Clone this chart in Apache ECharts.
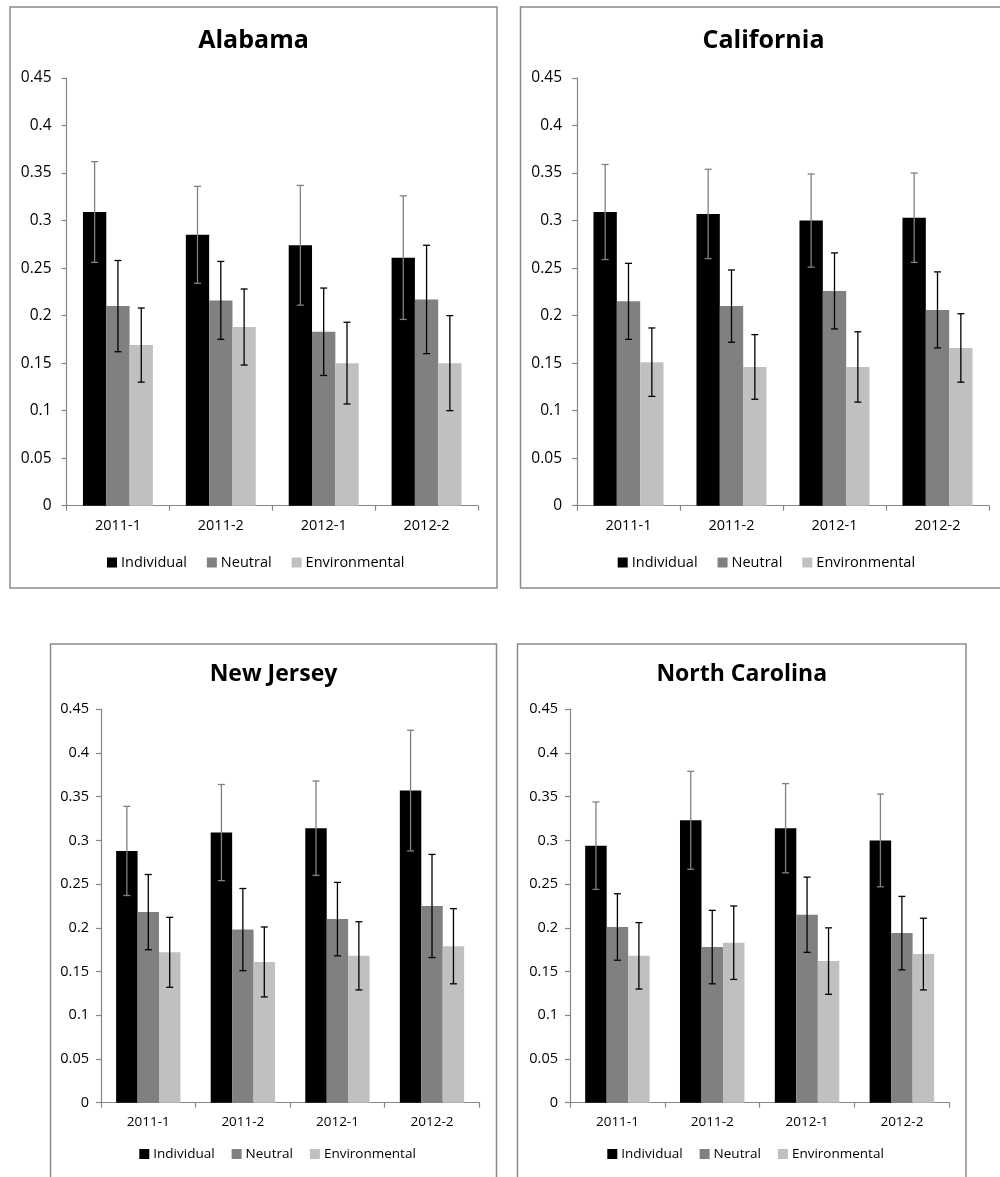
<!DOCTYPE html>
<html>
<head>
<meta charset="utf-8">
<script src="https://cdn.jsdelivr.net/npm/echarts@6/dist/echarts.min.js"></script>
<style>
  html, body { margin: 0; padding: 0; background: #fff; }
  #chart { width: 1000px; height: 1177px; }
</style>
</head>
<body>
<div id="chart"></div>
<script>
// Survey periods and response groups
const categories = ['2011-1', '2011-2', '2012-1', '2012-2'];
const groupNames = ['Individual', 'Neutral', 'Environmental'];
const yTicks = { min: 0, max: 0.45, step: 0.05 };

// Mean shares per group (rows: Individual, Neutral, Environmental)
const alabamaMeans = [
  [0.309, 0.285, 0.274, 0.261],
  [0.210, 0.216, 0.183, 0.217],
  [0.169, 0.188, 0.150, 0.150]
];
const alabamaErrors = [
  [0.053, 0.051, 0.063, 0.065],
  [0.048, 0.041, 0.046, 0.057],
  [0.039, 0.040, 0.043, 0.050]
];

const californiaMeans = [
  [0.309, 0.307, 0.300, 0.303],
  [0.215, 0.210, 0.226, 0.206],
  [0.151, 0.146, 0.146, 0.166]
];
const californiaErrors = [
  [0.050, 0.047, 0.049, 0.047],
  [0.040, 0.038, 0.040, 0.040],
  [0.036, 0.034, 0.037, 0.036]
];

const newJerseyMeans = [
  [0.288, 0.309, 0.314, 0.357],
  [0.218, 0.198, 0.210, 0.225],
  [0.172, 0.161, 0.168, 0.179]
];
const newJerseyErrors = [
  [0.051, 0.055, 0.054, 0.069],
  [0.043, 0.047, 0.042, 0.059],
  [0.040, 0.040, 0.039, 0.043]
];

const northCarolinaMeans = [
  [0.294, 0.323, 0.314, 0.300],
  [0.201, 0.178, 0.215, 0.194],
  [0.168, 0.183, 0.162, 0.170]
];
const northCarolinaErrors = [
  [0.050, 0.056, 0.051, 0.053],
  [0.038, 0.042, 0.043, 0.042],
  [0.038, 0.042, 0.038, 0.041]
];

// Styling
const barColors = ['#000000', '#808080', '#c0c0c0'];
const errorColors = ['#808080', '#000000', '#000000'];
const axisColor = '#868686';
const frameColor = '#8a8a8a';
const FONT = 'Open Sans';
const CATEGORY_GAP = 0.32;

// Layout of the four panels
const panels = [
  { title: 'Alabama', means: alabamaMeans, errs: alabamaErrors,
    frame: [10, 7, 487, 581], grid: [66.5, 78, 411.5, 427.7],
    titleY: 41, fs: 14.5, yfs: 15.5, titleFs: 25, legendX: 107, legendY: 563, legendGap: 20, xMargin: 13, yMargin: 15 },
  { title: 'California', means: californiaMeans, errs: californiaErrors,
    frame: [520.5, 7, 486, 581], grid: [577, 78, 412, 427.7],
    titleY: 41, fs: 14.5, yfs: 15.5, titleFs: 25, legendX: 617.7, legendY: 563, legendGap: 20, xMargin: 13, yMargin: 15 },
  { title: 'New Jersey', means: newJerseyMeans, errs: newJerseyErrors,
    frame: [50.5, 644, 446, 600], grid: [101, 709.3, 378.3, 393.4],
    titleY: 674, fs: 13.5, yfs: 14.5, titleFs: 23, legendX: 139.3, legendY: 1155, legendGap: 17, xMargin: 12, yMargin: 12 },
  { title: 'North Carolina', means: northCarolinaMeans, errs: northCarolinaErrors,
    frame: [517.5, 644, 448.5, 600], grid: [570, 709.3, 379.3, 393.4],
    titleY: 674, fs: 13.5, yfs: 14.5, titleFs: 23, legendX: 607.3, legendY: 1155, legendGap: 17, xMargin: 12, yMargin: 12 }
];

function errorBarRenderer(k, color) {
  return function (params, api) {
    const ci = api.value(0);
    const lo = api.coord([ci, api.value(1)]);
    const hi = api.coord([ci, api.value(2)]);
    const band = api.size([1, 0])[0];
    const bw = band * (1 - CATEGORY_GAP) / groupNames.length;
    const x = lo[0] + (k - 1) * bw;
    const cap = 3.5;
    const style = { stroke: color, lineWidth: 1.3 };
    return {
      type: 'group',
      children: [
        { type: 'line', shape: { x1: x, y1: hi[1], x2: x, y2: lo[1] }, style },
        { type: 'line', shape: { x1: x - cap, y1: hi[1], x2: x + cap, y2: hi[1] }, style },
        { type: 'line', shape: { x1: x - cap, y1: lo[1], x2: x + cap, y2: lo[1] }, style }
      ]
    };
  };
}

const grids = [], xAxes = [], yAxes = [], series = [], legends = [], graphics = [];

panels.forEach((p, gi) => {
  grids.push({ left: p.grid[0], top: p.grid[1], width: p.grid[2], height: p.grid[3], containLabel: false });
  xAxes.push({
    type: 'category', gridIndex: gi, data: categories,
    axisLine: { lineStyle: { color: axisColor, width: 1.2 } },
    axisTick: { show: true, length: 5, lineStyle: { color: axisColor, width: 1.2 } },
    axisLabel: { color: '#000', fontFamily: FONT, fontSize: p.fs, margin: p.xMargin },
    splitLine: { show: false }
  });
  yAxes.push({
    type: 'value', gridIndex: gi, min: yTicks.min, max: yTicks.max, interval: yTicks.step,
    axisLine: { show: true, lineStyle: { color: axisColor, width: 1.2 } },
    axisTick: { show: true, length: 5, lineStyle: { color: axisColor, width: 1.2 } },
    axisLabel: { color: '#000', fontFamily: FONT, fontSize: p.yfs, margin: p.yMargin },
    splitLine: { show: false }
  });
  groupNames.forEach((name, k) => {
    series.push({
      name, type: 'bar', xAxisIndex: gi, yAxisIndex: gi,
      data: p.means[k], itemStyle: { color: barColors[k] },
      barGap: '0%', barCategoryGap: (CATEGORY_GAP * 100) + '%',
      silent: true
    });
  });
  groupNames.forEach((name, k) => {
    series.push({
      name: name + ' error', type: 'custom', xAxisIndex: gi, yAxisIndex: gi,
      renderItem: errorBarRenderer(k, errorColors[k]),
      encode: { x: 0, y: [1, 2] },
      data: p.means[k].map((m, i) => [i, m - p.errs[k][i], m + p.errs[k][i]]),
      z: 5, silent: true
    });
  });
  legends.push({
    data: groupNames, left: p.legendX, top: p.legendY - 8, padding: 0,
    icon: 'rect', itemWidth: 10, itemHeight: 10, itemGap: p.legendGap,
    textStyle: { color: '#000', fontFamily: FONT, fontSize: p.fs, padding: [0, 0, 0, -1] },
    selectedMode: false
  });
  const f = p.frame;
  graphics.push({
    type: 'rect', silent: true, z: -1,
    shape: { x: f[0], y: f[1], width: f[2], height: f[3] },
    style: { fill: 'none', stroke: frameColor, lineWidth: 1.5 }
  });
  graphics.push({
    type: 'text', silent: true,
    x: f[0] + f[2] / 2, y: p.titleY,
    style: {
      text: p.title, fill: '#000',
      font: 'bold ' + p.titleFs + 'px "' + FONT + '"',
      align: 'center', verticalAlign: 'middle',
      textAlign: 'center', textVerticalAlign: 'middle'
    }
  });
});

const chart = echarts.init(document.getElementById('chart'), null, { renderer: 'canvas' });
chart.setOption({
  animation: false,
  backgroundColor: '#fff',
  grid: grids, xAxis: xAxes, yAxis: yAxes,
  legend: legends, series: series,
  graphic: { elements: graphics }
});
</script>
</body>
</html>
